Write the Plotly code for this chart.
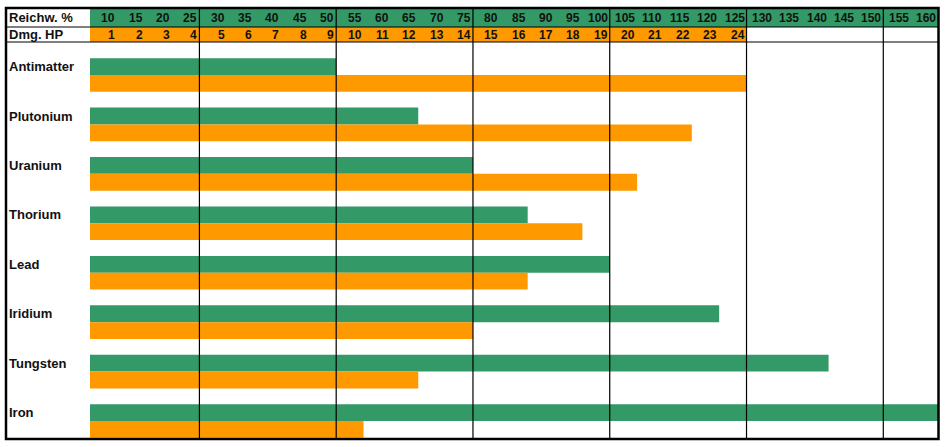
import plotly.graph_objects as go

# ---------------- data ----------------
categories = ["Antimatter", "Plutonium", "Uranium", "Thorium", "Lead", "Iridium", "Tungsten", "Iron"]
range_pct = [50, 65, 75, 85, 100, 120, 140, 160]      # Reichweite % (green)
damage_hp = [24, 22, 20, 18, 16, 14, 12, 10]          # Damage HP (orange)

range_ticks = [10, 15, 20, 25, 30, 35, 40, 45, 50, 55, 60, 65, 70, 75, 80, 85,
               90, 95, 100, 105, 110, 115, 120, 125, 130, 135, 140, 145, 150, 155, 160]
dmg_ticks = [1, 2, 3, 4, 5, 6, 7, 8, 9, 10, 11, 12, 13, 14, 15, 16, 17, 18, 19,
             20, 21, 22, 23, 24]
range_label = "Reichw. %"
dmg_label = "Dmg. HP"

# ---------------- style ----------------
GREEN = "#339966"
ORANGE = "#FF9900"
TXT = "#111111"
FONT = "Liberation Sans, Arial, sans-serif"

W, H = 945, 447
L, R, T, B = 90, 938, 8, 439          # plot area in pixels
FRAME_L = 6
ROW0, PER = 75, 49.43                 # first category split line and period (px)
HDR1, HDR2 = 27, 42                   # header separators (px)
BARW = 0.34


def px(x):
    return (x - L) / (R - L)


def py(y):
    return (B - y) / (B - T)


ypos = list(range(len(categories)))
y_range = [(B - ROW0) / PER, (T - ROW0) / PER]

fig = go.Figure()
step = range_ticks[1] - range_ticks[0]
fig.add_trace(go.Bar(
    y=ypos, x=[v - (range_ticks[0] - step) for v in range_pct],
    base=range_ticks[0] - step,
    orientation="h", width=BARW, offset=-BARW,
    marker=dict(color=GREEN, line=dict(width=0)),
    xaxis="x", yaxis="y", name=range_label, hoverinfo="skip"))
fig.add_trace(go.Bar(
    y=ypos, x=damage_hp, base=0,
    orientation="h", width=BARW, offset=0,
    marker=dict(color=ORANGE, line=dict(width=0)),
    xaxis="x2", yaxis="y", name=dmg_label, hoverinfo="skip"))

shapes = []
# header backgrounds
shapes.append(dict(type="rect", xref="x", yref="paper",
                   x0=range_ticks[0] - step, x1=range_ticks[-1],
                   y0=py(HDR1), y1=py(T), fillcolor=GREEN, line=dict(width=0), layer="below"))
shapes.append(dict(type="rect", xref="x2", yref="paper",
                   x0=0, x1=dmg_ticks[-1],
                   y0=py(HDR2), y1=py(HDR1), fillcolor=ORANGE, line=dict(width=0), layer="below"))
# vertical grid lines every 5 columns
for v in range_ticks[3::5]:
    shapes.append(dict(type="line", xref="x", yref="paper", x0=v, x1=v, y0=0, y1=1,
                       line=dict(color="black", width=1.2)))
# header separators
for yy in (HDR1, HDR2):
    shapes.append(dict(type="line", xref="paper", yref="paper", x0=px(FRAME_L), x1=1,
                       y0=py(yy), y1=py(yy), line=dict(color="black", width=1.2)))
# outer frame
shapes.append(dict(type="rect", xref="paper", yref="paper", x0=px(FRAME_L), x1=px(R + 0.5),
                   y0=0, y1=1, line=dict(color="black", width=2.5)))

annotations = []
num_font = dict(family=FONT, size=12, color=TXT)
lab_font = dict(family=FONT, size=13, color=TXT)
for v in range_ticks:
    annotations.append(dict(x=v, xref="x", y=py((T + HDR1) / 2), yref="paper",
                            text=f"<b>{v}</b>", xanchor="right", yanchor="middle",
                            showarrow=False, font=num_font, xshift=0))
for d in dmg_ticks:
    annotations.append(dict(x=d, xref="x2", y=py((HDR1 + HDR2) / 2), yref="paper",
                            text=f"<b>{d}</b>", xanchor="right", yanchor="middle",
                            showarrow=False, font=num_font, xshift=0))
annotations.append(dict(x=px(7), xref="paper", y=py((T + HDR1) / 2), yref="paper",
                        text=f"<b>{range_label}</b>", xanchor="left", yanchor="middle",
                        showarrow=False, font=lab_font))
annotations.append(dict(x=px(7), xref="paper", y=py((HDR1 + HDR2) / 2), yref="paper",
                        text=f"<b>{dmg_label}</b>", xanchor="left", yanchor="middle",
                        showarrow=False, font=lab_font))
for i, c in enumerate(categories):
    annotations.append(dict(x=px(7), xref="paper", y=i - BARW / 2, yref="y",
                            text=f"<b>{c}</b>", xanchor="left", yanchor="middle",
                            showarrow=False, font=lab_font))

fig.update_layout(
    width=W, height=H,
    margin=dict(l=L, r=W - R, t=T, b=H - B, pad=0),
    paper_bgcolor="white", plot_bgcolor="white",
    barmode="overlay", showlegend=False,
    xaxis=dict(range=[range_ticks[0] - step, range_ticks[-1]], visible=False, fixedrange=True),
    xaxis2=dict(range=[0, len(range_ticks)], overlaying="x", visible=False, fixedrange=True),
    yaxis=dict(range=y_range, visible=False, fixedrange=True),
    shapes=shapes, annotations=annotations,
    font=dict(family=FONT),
)

fig.write_html("out.html", config={"displayModeBar": False},
               post_script="document.body.style.margin='0';document.body.style.overflow='hidden';")
